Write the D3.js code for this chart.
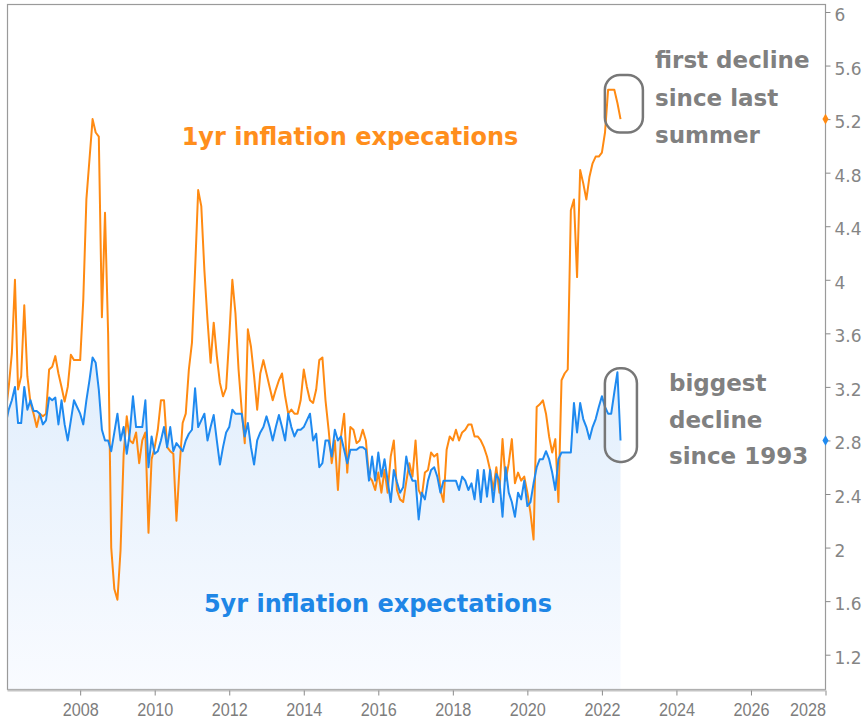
<!DOCTYPE html>
<html>
<head>
<meta charset="utf-8">
<script src="https://d3js.org/d3.v7.min.js"></script>
<style>
  body { margin: 0; background: #fff; }
  svg { display: block; }
</style>
</head>
<body>
<div id="viz"></div>
<script>
// monthly readings, first value = Jan 2006, last = Jul 2022
const firstYear = 2006;

const oneYear = [
  3.0, 3.2, 3.45, 4.0, 3.18, 3.28, 3.81, 3.28, 3.08, 3.0, 2.9, 3.0,
  2.98, 3.0, 3.33, 3.35, 3.43, 3.3, 3.2, 3.09, 3.2, 3.44, 3.4, 3.4,
  3.4, 3.85, 4.6, 4.9, 5.2, 5.1, 5.07, 3.72, 4.5, 3.6, 2.0, 1.69,
  1.61, 1.98, 2.7, 2.98, 2.8, 2.78, 2.86, 2.63, 2.8, 2.86, 2.11, 2.66,
  2.75, 2.88, 3.1, 3.1, 2.75, 2.72, 2.7, 2.2, 2.6, 2.93, 3.0, 3.33,
  3.53, 4.07, 4.67, 4.55, 4.07, 3.7, 3.38, 3.68, 3.43, 3.23, 3.13, 3.19,
  3.57, 4.0, 3.75, 3.33, 3.03, 2.78, 3.63, 3.5, 3.28, 3.03, 3.3, 3.4,
  3.3, 3.2, 3.1, 3.18, 3.25, 3.3, 3.13, 3.0, 3.03, 3.0, 3.0, 3.1,
  3.33, 3.2, 3.1, 3.08, 3.18, 3.4, 3.42, 3.1, 2.88, 2.63, 2.8, 2.43,
  2.83, 3.0, 2.56, 2.9, 2.88, 2.78, 2.8, 2.88, 2.8, 2.53, 2.5, 2.43,
  2.56, 2.41, 2.58, 2.41, 2.68, 2.8, 2.43, 2.36, 2.34, 2.49, 2.63, 2.53,
  2.8, 2.43, 2.38, 2.56, 2.58, 2.71, 2.68, 2.7, 2.43, 2.34, 2.73, 2.83,
  2.8, 2.88, 2.8, 2.86, 2.88, 2.92, 2.92, 2.83, 2.83, 2.8, 2.75, 2.68,
  2.58, 2.43, 2.6, 2.41, 2.81, 2.5, 2.63, 2.81, 2.48, 2.56, 2.5, 2.53,
  2.41, 2.26, 2.06, 3.05, 3.07, 3.1, 3.0, 2.83, 2.71, 2.81, 2.34, 3.25,
  3.3, 3.33, 4.52, 4.6, 4.02, 4.82, 4.72, 4.6, 4.77, 4.87, 4.92, 4.92,
  4.95, 5.1, 5.42, 5.42, 5.42, 5.32, 5.2
];

const fiveYear = [
  2.92, 3.03, 3.1, 3.2, 2.93, 2.93, 3.2, 3.03, 3.1, 3.02, 3.02, 3.0,
  2.92, 2.95, 3.12, 3.1, 3.12, 2.92, 3.1, 2.92, 2.8, 2.95, 3.1, 3.05,
  3.0, 2.92, 3.1, 3.25, 3.42, 3.38, 3.18, 2.88, 2.8, 2.8, 2.72, 2.86,
  3.0, 2.8, 2.9, 2.7, 2.86, 3.13, 2.9, 2.9, 2.9, 3.1, 2.6, 2.83,
  2.7, 2.72, 2.8, 2.9, 2.75, 2.9, 2.72, 2.78, 2.75, 2.72, 2.8, 2.85,
  2.88, 3.19, 2.9, 2.95, 3.0, 2.8, 2.9, 2.99, 2.8, 2.62, 2.75, 2.86,
  2.9, 3.03, 3.0, 3.0, 3.0, 2.83, 2.93, 2.75, 2.62, 2.8, 2.86, 2.9,
  2.98, 2.9, 2.8, 2.9, 2.99, 2.9, 2.8, 3.0, 2.9, 2.83, 2.88, 2.88,
  2.9, 2.95, 3.0, 2.8, 2.85, 2.6, 2.63, 2.8, 2.8, 2.68, 2.88, 2.8,
  2.83, 2.73, 2.63, 2.73, 2.73, 2.73, 2.75, 2.75, 2.73, 2.5, 2.68, 2.5,
  2.71, 2.53, 2.66, 2.5, 2.34, 2.58, 2.49, 2.41, 2.45, 2.68, 2.56, 2.5,
  2.5, 2.21, 2.41, 2.36, 2.5, 2.58, 2.6, 2.53, 2.41, 2.5, 2.5, 2.5,
  2.5, 2.5, 2.43, 2.53, 2.5, 2.43, 2.48, 2.36, 2.58, 2.34, 2.58, 2.38,
  2.58, 2.34, 2.55, 2.5, 2.23, 2.6, 2.41, 2.34, 2.23, 2.41, 2.36, 2.5,
  2.31, 2.34, 2.48, 2.6, 2.66, 2.66, 2.72, 2.66, 2.56, 2.43, 2.66, 2.71,
  2.71, 2.71, 2.71, 3.08, 2.86, 3.08, 2.96, 2.9, 2.81, 2.9, 2.96, 3.05,
  3.13, 3.05, 3.0, 3.0, 3.16, 3.31, 2.8
];

const xTicks = [2008, 2010, 2012, 2014, 2016, 2018, 2020, 2022, 2024, 2026, 2028];
const yTicks = [1.2, 1.6, 2, 2.4, 2.8, 3.2, 3.6, 4, 4.4, 4.8, 5.2, 5.6, 6];

let width = 866, height = 723;
let plotL = 7.5, plotR = 825.5, plotT = 4.5, plotB = 689.5;

let orange = '#ff8a12', blue = '#1f8af0', grey = '#808080';

let svg = d3.select('#viz').append('svg')
  .attr('width', width)
  .attr('height', height);

let x = d3.scaleLinear().domain([2006.05, 2028]).range([plotL, plotR]);
let y = d3.scaleLinear().domain([0.94, 6.056]).range([plotB, plotT]);

let toPoints = arr => arr.map((v, i) => ({ t: firstYear + i / 12, v: v }));
let one = toPoints(oneYear), five = toPoints(fiveYear);

// gradient + clip
let defs = svg.append('defs');
let grad = defs.append('linearGradient')
  .attr('id', 'fade')
  .attr('gradientUnits', 'userSpaceOnUse')
  .attr('x1', 0).attr('x2', 0)
  .attr('y1', y(3.4)).attr('y2', plotB);
grad.append('stop').attr('offset', 0).attr('stop-color', '#e1eefc');
grad.append('stop').attr('offset', 1).attr('stop-color', '#f9fbff');

defs.append('clipPath').attr('id', 'plot')
  .append('rect')
  .attr('x', plotL).attr('y', plotT)
  .attr('width', plotR - plotL).attr('height', plotB - plotT);

let g = svg.append('g').attr('clip-path', 'url(#plot)');

g.append('path')
  .datum(five)
  .attr('fill', 'url(#fade)')
  .attr('d', d3.area().x(d => x(d.t)).y0(plotB).y1(d => y(d.v)));

let line = d3.line().x(d => x(d.t)).y(d => y(d.v));

g.append('path')
  .datum(one)
  .attr('fill', 'none')
  .attr('stroke', orange)
  .attr('stroke-width', 2)
  .attr('stroke-linejoin', 'round')
  .attr('d', line);

g.append('path')
  .datum(five)
  .attr('fill', 'none')
  .attr('stroke', blue)
  .attr('stroke-width', 2)
  .attr('stroke-linejoin', 'round')
  .attr('d', line);

// frame
svg.append('rect')
  .attr('x', plotL).attr('y', plotT)
  .attr('width', plotR - plotL).attr('height', plotB - plotT)
  .attr('fill', 'none')
  .attr('stroke', '#9a9a9a')
  .attr('stroke-width', 1.2);
svg.append('line')
  .attr('x1', plotL).attr('x2', plotR)
  .attr('y1', plotB + 1).attr('y2', plotB + 1)
  .attr('stroke', '#c4c4c4')
  .attr('stroke-width', 2);

// right axis
let yAxis = svg.append('g')
  .attr('transform', `translate(${plotR},0)`)
  .call(d3.axisRight(y).tickValues(yTicks).tickSize(5).tickPadding(4).tickFormat(d => String(d)));
yAxis.select('.domain').remove();
yAxis.selectAll('line').attr('stroke', '#8a8a8a');
yAxis.selectAll('text')
  .attr('fill', '#858585')
  .attr('dy', '0.5em')
  .style('font', '17px "DejaVu Sans", sans-serif');

// bottom axis
let xAxis = svg.append('g')
  .attr('transform', `translate(0,${plotB + 1})`)
  .call(d3.axisBottom(x).tickValues(xTicks).tickSize(5).tickPadding(4).tickFormat(d3.format('d')));
xAxis.select('.domain').remove();
xAxis.selectAll('line').attr('stroke', '#8a8a8a');
xAxis.selectAll('text')
  .attr('fill', '#7d7d7d')
  .attr('dy', '0.9em')
  .attr('textLength', 36)
  .attr('lengthAdjust', 'spacingAndGlyphs')
  .style('font', '18px "Liberation Sans Narrow", "Liberation Sans", sans-serif')
  .attr('text-anchor', d => d === 2028 ? 'end' : 'middle');

// last value markers on the axis
let lastOne = one[one.length - 1], lastFive = five[five.length - 1];
svg.append('path')
  .attr('d', d3.symbol(d3.symbolDiamond, 32))
  .attr('transform', `translate(${plotR},${y(lastOne.v)})`)
  .attr('fill', orange);
svg.append('path')
  .attr('d', d3.symbol(d3.symbolDiamond, 32))
  .attr('transform', `translate(${plotR},${y(lastFive.v)})`)
  .attr('fill', blue);

// labels
svg.append('text')
  .attr('x', 350).attr('y', 145)
  .attr('text-anchor', 'middle')
  .attr('fill', '#ff8e1c')
  .style('font', 'bold 24px "DejaVu Sans", sans-serif')
  .text('1yr inflation expecations');

svg.append('text')
  .attr('x', 378).attr('y', 612)
  .attr('text-anchor', 'middle')
  .attr('fill', '#1e86e6')
  .style('font', 'bold 24px "DejaVu Sans", sans-serif')
  .text('5yr inflation expectations');

let note = (lines, x0, y0, step) => {
  let t = svg.append('text')
    .attr('fill', grey)
    .style('font', 'bold 23px "DejaVu Sans", sans-serif');
  lines.forEach((s, i) => {
    t.append('tspan').attr('x', x0).attr('y', y0 + i * step).text(s);
  });
};
note(['first decline', 'since last', 'summer'], 655, 68, 37.5);
note(['biggest', 'decline', 'since 1993'], 669, 391, 36.5);

// circled endings
let box = (t0, t1, v0, v1) => {
  svg.append('rect')
    .attr('x', x(t0)).attr('y', y(v0))
    .attr('width', x(t1) - x(t0))
    .attr('height', y(v1) - y(v0))
    .attr('rx', 15)
    .attr('fill', 'none')
    .attr('stroke', '#777')
    .attr('stroke-width', 2.5);
};
box(2022.08, 2023.1, 5.53, 5.1);
box(2022.08, 2022.94, 3.34, 2.64);
</script>
</body>
</html>
